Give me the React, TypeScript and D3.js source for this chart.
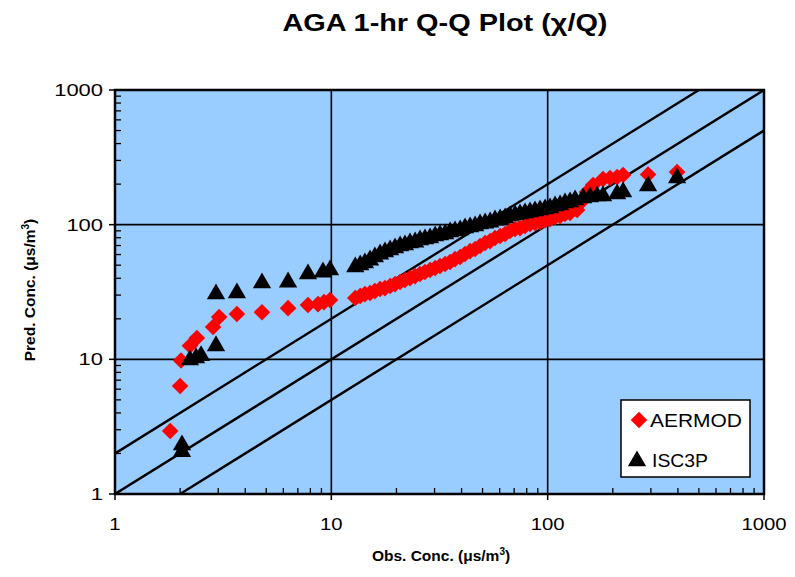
import React from 'react';
import * as d3 from 'd3';

// ---- data ----
const axisTicks = [1, 10, 100, 1000];
const tickLabels = ['1', '10', '100', '1000'];
const refRatios = [2, 1, 0.5];
const seriesNames = ['AERMOD', 'ISC3P'];

const aermodObs = [
  1.8, 2.0, 2.02, 2.22, 2.39, 2.84, 3.03, 3.66, 4.78, 6.31, 7.8, 8.68, 9.25, 9.86,
  12.9, 13.6, 14.3, 15.1, 15.9, 16.8, 17.7, 18.7, 19.7, 20.8, 21.9, 23.1, 24.4, 25.7, 27.1,
  28.6, 30.2, 31.8, 33.6, 35.4, 37.3, 39.4, 41.5, 43.8, 46.2, 48.7, 51.4, 54.2, 57.1, 60.3,
  63.6, 67.0, 70.7, 74.5, 78.6, 82.9, 87.4, 92.2, 97.3, 102.6, 108.2, 114.1, 120.3, 126.9,
  136.8, 145.8, 152.2, 162.2, 180.3, 194.3, 209.4, 223.2, 291.2, 396.4,
];
const aermodPred = [
  2.94, 6.34, 9.8, 12.6, 14.4, 17.4, 20.6, 21.7, 22.4, 24.0, 25.3, 25.7, 26.6, 27.6,
  28.5, 29.5, 30.5, 31.1, 32.1, 33.3, 33.8, 35.0, 36.2, 37.5, 38.8, 40.1, 41.5, 43.0, 44.5,
  46.0, 47.6, 49.3, 51.0, 52.8, 55.5, 57.5, 60.5, 63.6, 65.9, 69.4, 73.0, 75.5, 79.5, 82.3,
  85.2, 89.7, 92.8, 94.3, 97.6, 101.0, 102.8, 104.5, 108.0, 110.0, 113.9, 115.8, 119.9, 121.9,
  128.4, 152.2, 174.6, 196.8, 218.0, 221.8, 225.6, 233.5, 236.0, 245.7,
];

const isc3pObs = [
  2.04, 2.04, 2.22, 2.37, 2.5, 2.93, 2.93, 3.66, 4.78, 6.31, 7.8, 9.15, 9.86,
  12.9, 13.6, 14.3, 15.1, 15.9, 16.8, 17.7, 18.7, 19.7, 20.8, 21.9, 23.1, 24.4, 25.7, 27.1,
  28.6, 30.2, 31.8, 33.6, 35.4, 37.3, 39.4, 41.5, 43.8, 46.2, 48.7, 51.4, 54.2, 57.1, 60.3,
  63.6, 67.0, 70.7, 74.5, 78.6, 82.9, 87.4, 92.2, 97.3, 102.6, 108.2, 114.1, 120.3, 126.9,
  133.9, 145.8, 157.0, 169.2, 180.3, 209.4, 223.2, 291.2, 396.4,
];
const isc3pPred = [
  2.1, 2.35, 10.05, 10.4, 10.8, 12.8, 31.1, 31.6, 37.5, 38.1, 43.7, 45.2, 46.8,
  49.3, 51.0, 52.8, 55.5, 58.5, 61.5, 63.7, 65.9, 68.2, 70.6, 71.8, 74.3, 75.5, 78.2, 79.5,
  80.9, 83.7, 85.2, 86.6, 89.7, 91.2, 92.8, 96.0, 97.6, 99.3, 102.8, 104.5, 106.3, 110.0, 111.9,
  113.9, 117.8, 119.9, 121.9, 124.1, 126.2, 128.4, 130.6, 132.8, 135.1, 139.8, 142.2, 147.2, 149.7,
  154.9, 160.3, 163.1, 165.9, 165.9, 171.6, 177.6, 196.8, 225.6,
];

const FONT = '"Liberation Sans", Arial, sans-serif';

export default function App() {
  const W = 795, H = 577;
  const left = 115, right = 764, top = 90, bottom = 494;
  const x = d3.scaleLog().domain([1, 1000]).range([left, right]);
  const y = d3.scaleLog().domain([1, 1000]).range([bottom, top]);

  const minor: number[] = [];
  [1, 10, 100].forEach((d) => {
    for (let k = 2; k <= 9; k++) minor.push(d * k);
  });

  const diamond = d3.symbol().type(d3.symbolDiamond2).size(175)();
  const triangle = d3.symbol().type(d3.symbolTriangle).size(145)();

  const aermod = aermodObs.map((o, i) => [o, aermodPred[i]]);
  const isc = isc3pObs.map((o, i) => [o, isc3pPred[i]]);

  const line = d3.line<number[]>().x((d) => x(d[0])).y((d) => y(d[1]));

  return (
    <svg width={W} height={H} style={{ position: 'absolute', left: 0, top: 0, background: '#fff' }} fontFamily={FONT}>
      <defs>
        <clipPath id="plot">
          <rect x={left} y={top} width={right - left} height={bottom - top} />
        </clipPath>
      </defs>
      {/* title */}
      <text x={445} y={31} textAnchor="middle" fontWeight="bold" fontSize={23} textLength={325} lengthAdjust="spacingAndGlyphs">
        AGA 1-hr Q-Q Plot (χ/Q)
      </text>

      {/* plot area */}
      <rect x={left} y={top} width={right - left} height={bottom - top} fill="#99CCFF" />

      {/* grid */}
      {[10, 100].map((v) => (
        <g key={'g' + v}>
          <line x1={x(v)} x2={x(v)} y1={top} y2={bottom} stroke="#000" strokeWidth={1.6} />
          <line x1={left} x2={right} y1={y(v)} y2={y(v)} stroke="#000" strokeWidth={1.6} />
        </g>
      ))}

      {/* minor ticks inside */}
      {minor.map((v) => (
        <g key={'m' + v}>
          <line x1={left} x2={left + 6} y1={y(v)} y2={y(v)} stroke="#000" strokeWidth={1.3} />
          <line x1={x(v)} x2={x(v)} y1={bottom} y2={bottom - 6} stroke="#000" strokeWidth={1.3} />
        </g>
      ))}

      <g clipPath="url(#plot)">
        {refRatios.map((r) => (
          <path key={'r' + r} d={line([[0.1, 0.1 * r], [10000, 10000 * r]]) || ''} stroke="#000" strokeWidth={2.4} fill="none" />
        ))}
        {aermod.map((d, i) => (
          <path key={'a' + i} d={diamond || ''} transform={`translate(${x(d[0])},${y(d[1])})`} fill="#FF0000" />
        ))}
        {isc.map((d, i) => (
          <path key={'i' + i} d={triangle || ''} transform={`translate(${x(d[0])},${y(d[1]) + 1})`} fill="#000" />
        ))}
      </g>

      {/* frame */}
      <rect x={left} y={top} width={right - left} height={bottom - top} fill="none" stroke="#000" strokeWidth={2.5} />

      {/* major ticks + labels */}
      {axisTicks.map((v, i) => (
        <g key={'t' + v}>
          <line x1={left - 6} x2={left} y1={y(v)} y2={y(v)} stroke="#000" strokeWidth={1.5} />
          <line x1={x(v)} x2={x(v)} y1={bottom} y2={bottom + 6} stroke="#000" strokeWidth={1.5} />
          <text x={103} y={y(v) + 6} textAnchor="end" fontSize={17} textLength={tickLabels[i].length * 12.2} lengthAdjust="spacingAndGlyphs">
            {tickLabels[i]}
          </text>
          <text x={x(v)} y={530} textAnchor="middle" fontSize={17} textLength={tickLabels[i].length * 11.3} lengthAdjust="spacingAndGlyphs">
            {tickLabels[i]}
          </text>
        </g>
      ))}

      {/* axis titles */}
      <text x={441} y={561} textAnchor="middle" fontWeight="bold" fontSize={15.5}>
        Obs. Conc. (μs/m<tspan dy={-6} fontSize={10}>3</tspan><tspan dy={6}>)</tspan>
      </text>
      <text transform="translate(35,290) rotate(-90)" textAnchor="middle" fontWeight="bold" fontSize={15.5}>
        Pred. Conc. (μs/m<tspan dy={-6} fontSize={10}>3</tspan><tspan dy={6}>)</tspan>
      </text>

      {/* legend */}
      <rect x={621} y={400} width={129} height={77} fill="#fff" stroke="#000" strokeWidth={1.5} />
      <path d={diamond || ''} transform="translate(639,420)" fill="#FF0000" />
      <text x={650} y={427} fontSize={18} textLength={92} lengthAdjust="spacingAndGlyphs">{seriesNames[0]}</text>
      <path d={triangle || ''} transform="translate(637,461)" fill="#000" />
      <text x={652} y={467} fontSize={18} textLength={56} lengthAdjust="spacingAndGlyphs">{seriesNames[1]}</text>
    </svg>
  );
}
